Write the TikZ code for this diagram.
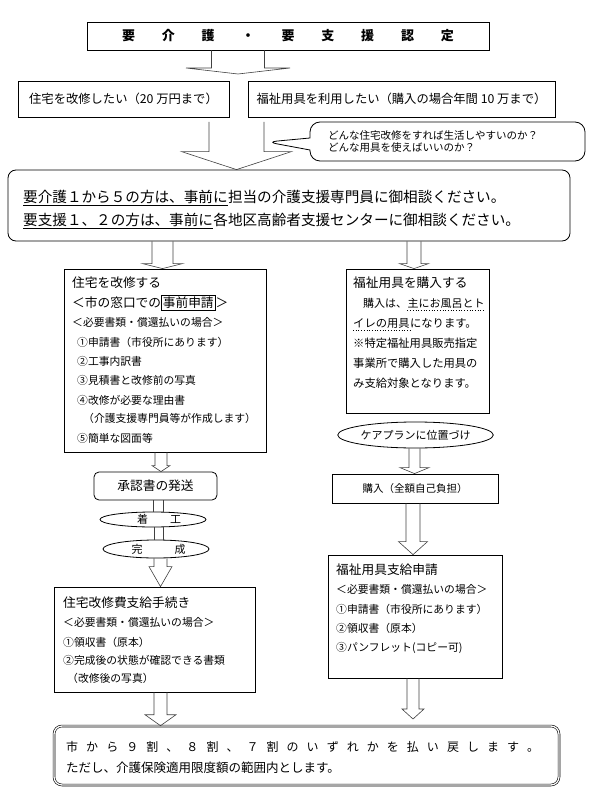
\documentclass[tikz,border=0pt]{standalone}
\usepackage{fontspec}
\setmainfont{Noto Sans CJK JP}
\usetikzlibrary{calc,shapes.geometric,shapes.callouts}

\newcommand{\szwant}{\fontsize{12.3pt}{15pt}\selectfont}
\newcommand{\szhead}{\fontsize{12.7pt}{15pt}\selectfont}
\newcommand{\szsmall}{\fontsize{10.8pt}{13pt}\selectfont}
\newcommand{\szcall}{\fontsize{10.5pt}{12pt}\selectfont}
\newcommand{\szbig}{\fontsize{14.6pt}{17pt}\selectfont}
\newcommand{\szbody}{\fontsize{11.3pt}{13pt}\selectfont}

% fat arrow: start, tip, shaft half width, head half width, head length
\newcommand{\fatarrow}[5]{\draw[fat] let \p1=#1, \p2=#2 in
  (\x1-#3pt,\y1) -- (\x1-#3pt,\y2+#5pt) -- (\x1-#4pt,\y2+#5pt) -- (\x1,\y2)
  -- (\x1+#4pt,\y2+#5pt) -- (\x1+#3pt,\y2+#5pt) -- (\x1+#3pt,\y1);}
\newcommand{\fatshaft}[3]{\draw[fat] let \p1=#1, \p2=#2 in
  (\x1-#3pt,\y1) -- (\x1-#3pt,\y2) (\x1+#3pt,\y1) -- (\x1+#3pt,\y2);}

\begin{document}
\begin{tikzpicture}[x=1pt,y=-1pt]

\tikzset{box/.style={draw,line width=0.8pt,inner sep=0pt}}
\tikzset{oval/.style={box,ellipse}}
\tikzset{txt/.style={anchor=base west,inner sep=0pt}}
\tikzset{fat/.style={draw=black!75,line width=0.6pt}}
\tikzset{uline/.style={line width=1.2pt}}
\tikzset{dotline/.style={line width=0.7pt,dotted}}

\useasboundingbox (0,0) rectangle (595,799);

% top part
\node[box,minimum width=402pt,minimum height=28pt] (cert) at (288,36)
  {\bfseries\fontsize{13pt}{15pt}\selectfont\makebox[332pt]{要\hfill 介\hfill 護\hfill ・\hfill 要\hfill 支\hfill 援\hfill 認\hfill 定}};
\coordinate (fork) at (238,74);
\node[box,minimum width=211pt,minimum height=36pt] (wantA) at (123.5,99) {\szwant 住宅を改修したい（20 万円まで）};
\node[box,minimum width=307pt,minimum height=36pt] (wantB) at (401.5,99) {\szwant 福祉用具を利用したい（購入の場合年間 10 万まで）};

\coordinate (split) at (236.5,122);
\coordinate (asktip) at (267,142);
\node[box,rectangle callout,rounded corners=10pt,callout absolute pointer=(asktip),
  callout pointer width=12pt,minimum width=275pt,minimum height=39pt] (ask) at (447.5,141.5) {};
\node[anchor=west,inner sep=0pt,align=left,font=\szcall] (asktext) at (328,142)
  {どんな住宅改修をすれば生活しやすいのか？\\どんな用具を使えばいいのか？};

\node[box,rounded corners=8pt,minimum width=562pt,minimum height=71pt] (consult) at (289,205.5) {};
\node[txt] (careU) at (23,202.5) {\szbig 要介護１から５の方は、事前に};
\node[txt] (care) at (careU.base east) {\szbig 担当の介護支援専門員に御相談ください。};
\node[txt] (supportU) at (23,225.5) {\szbig 要支援１、２の方は、事前に};
\node[txt] (support) at (supportU.base east) {\szbig 各地区高齢者支援センターに御相談ください。};
\draw[uline] ([yshift=-3pt]careU.base west) -- ([yshift=-3pt]careU.base east);
\draw[uline] ([yshift=-3pt]supportU.base west) -- ([yshift=-3pt]supportU.base east);

% left column
\node[box,minimum width=202pt,minimum height=183pt] (renov) at (165,360.5) {};
\node[txt] (renov1) at (72,287.8) {\szhead 住宅を改修する};
\node[txt] (renov2) at (72,307.8) {\szhead ＜市の窓口での{\fboxsep=1pt\fboxrule=0.8pt\fbox{事前申請}}＞};
\node[txt] (renov3) at (72,326.1) {\szsmall ＜必要書類・償還払いの場合＞};
\node[txt] (renov4) at (77,346.1) {\szsmall ①申請書（市役所にあります）};
\node[txt] (renov5) at (77,365.1) {\szsmall ②工事内訳書};
\node[txt] (renov6) at (77,384.1) {\szsmall ③見積書と改修前の写真};
\node[txt] (renov7) at (77,404.1) {\szsmall ④改修が必要な理由書};
\node[txt] (renov8) at (83,422.1) {\szsmall （介護支援専門員等が作成します）};
\node[txt] (renov9) at (77,442.1) {\szsmall ⑤簡単な図面等};

\node[box,rounded corners=5pt,minimum width=123pt,minimum height=28pt] (approve) at (155.5,486) {\szhead 承認書の発送};
\node[oval,minimum width=106pt,minimum height=15pt] (start) at (153,519.5)
  {\fontsize{11pt}{12pt}\selectfont\hspace{12pt}着\hspace{22pt}工};
\node[oval,minimum width=106pt,minimum height=18pt] (done) at (156,549)
  {\fontsize{11pt}{12pt}\selectfont\hspace{5pt}完\hspace{32pt}成};

\node[box,minimum width=201pt,minimum height=105pt] (claimL) at (154.5,639.5) {};
\node[txt] (claimL1) at (63,607.8) {\szhead 住宅改修費支給手続き};
\node[txt] (claimL2) at (63,626.2) {\szsmall ＜必要書類・償還払いの場合＞};
\node[txt] (claimL3) at (63,646.2) {\szsmall ①領収書（原本）};
\node[txt] (claimL4) at (63,664.2) {\szsmall ②完成後の状態が確認できる書類};
\node[txt] (claimL5) at (67,682.2) {\szsmall （改修後の写真）};

% right column
\node[box,minimum width=143pt,minimum height=144pt] (buyinfo) at (417.5,341) {};
\node[txt] (buyinfo1) at (353,287.8) {\szhead 福祉用具を購入する};
\node[txt] (buyinfo2) at (363,307.4) {\fontsize{11pt}{13pt}\selectfont 購入は、};
\node[txt] (buyinfo2U) at (buyinfo2.base east) {\fontsize{11pt}{13pt}\selectfont 主にお風呂とト};
\node[txt] (buyinfo3U) at (353,327.4) {\szbody イレの用具};
\node[txt] (buyinfo3) at (buyinfo3U.base east) {\szbody になります。};
\node[txt] (buyinfo4) at (353,347.4) {\szbody ※特定福祉用具販売指定};
\node[txt] (buyinfo5) at (353,367.4) {\szbody 事業所で購入した用具の};
\node[txt] (buyinfo6) at (353,387.4) {\szbody み支給対象となります。};
\draw[dotline] ([yshift=-2.5pt]buyinfo2U.base west) -- ([yshift=-2.5pt]buyinfo2U.base east);
\draw[dotline] ([yshift=-2.5pt]buyinfo3U.base west) -- ([yshift=-2.5pt]buyinfo3U.base east);

\node[oval,minimum width=145pt,minimum height=26pt] (plan) at (415.5,435) {\fontsize{11pt}{12pt}\selectfont ケアプランに位置づけ};
\node[box,minimum width=166pt,minimum height=29pt] (buy) at (415,488.5)
  {\fontsize{10.5pt}{12pt}\selectfont 購入（全額自己負担）\hspace{16pt}};

\node[box,minimum width=174pt,minimum height=123pt] (claimR) at (415,616.5) {};
\node[txt] (claimR1) at (336,574.8) {\szhead 福祉用具支給申請};
\node[txt] (claimR2) at (336,593.2) {\szsmall ＜必要書類・償還払いの場合＞};
\node[txt] (claimR3) at (336,613.2) {\szsmall ①申請書（市役所にあります）};
\node[txt] (claimR4) at (336,632.2) {\szsmall ②領収書（原本）};
\node[txt] (claimR5) at (336,651.2) {\szsmall ③パンフレット(コピー可)};
\coordinate (backR) at (413,719);

% bottom
\node[box,rounded corners=8pt,double,double distance=1.3pt,line width=0.6pt,
  minimum width=505pt,minimum height=59pt] (refund) at (306.5,755.5) {};
\node[txt] (refund1) at (66,751.6) {\fontsize{12pt}{14pt}\selectfont\makebox[473pt]{市\hfill か\hfill ら\hfill ９\hfill 割\hfill 、\hfill ８\hfill 割\hfill 、\hfill ７\hfill 割\hfill の\hfill い\hfill ず\hfill れ\hfill か\hfill を\hfill 払\hfill い\hfill 戻\hfill し\hfill ま\hfill す\hfill 。}};
\node[txt] (refund2) at (66,772.8) {\fontsize{12.5pt}{14pt}\selectfont ただし、介護保険適用限度額の範囲内とします。};

% arrows
\fatarrow{(238,0 |- cert.south)}{(fork)}{26.5}{52}{6}
\fatarrow{(split)}{(236.5,0 |- consult.north)}{27.5}{55}{18}
\fatarrow{(162.5,0 |- consult.south)}{(162.5,0 |- renov.north)}{10.5}{20}{5}
\fatarrow{(414,0 |- consult.south)}{(414,0 |- buyinfo.north)}{7}{14.5}{5}
\fatarrow{(161,0 |- renov.south)}{(161,0 |- approve.north)}{6}{9}{6}
\fatshaft{(158,0 |- approve.south)}{(158,0 |- start.north)}{5}
\fatshaft{(159,0 |- start.south)}{(159,0 |- done.north)}{4.5}
\fatarrow{(160.5,0 |- done.south)}{(160.5,0 |- claimL.north)}{6.5}{11.5}{20}
\fatarrow{(160.5,0 |- claimL.south)}{(160.5,0 |- refund.north)}{6.5}{15.5}{11}
\fatarrow{(414.5,0 |- plan.south)}{(414.5,0 |- buy.north)}{5.5}{14.5}{6}
\fatarrow{(413,0 |- buy.south)}{(413,0 |- claimR.north)}{7}{14.5}{13}
\fatarrow{(413,0 |- claimR.south)}{(backR)}{6}{11}{10}

\end{tikzpicture}
\end{document}
